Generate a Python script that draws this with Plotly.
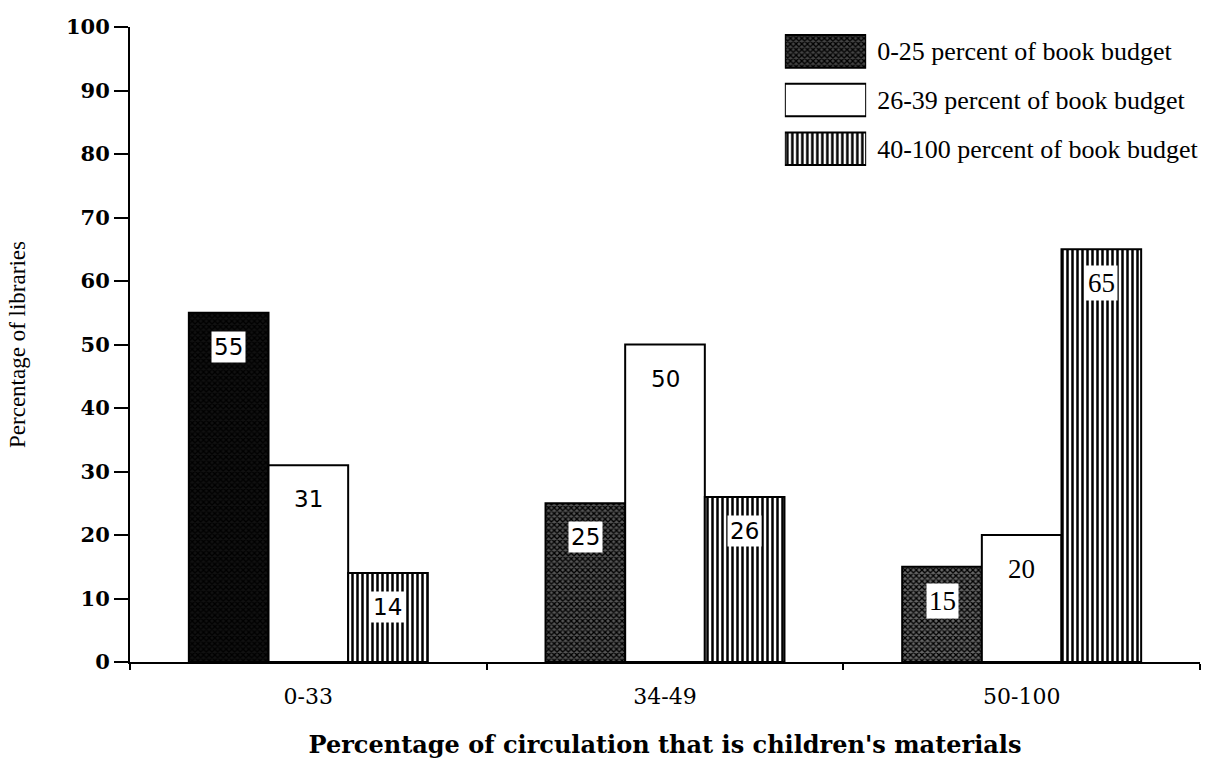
import plotly.graph_objects as go

categories = ["0-33", "34-49", "50-100"]
series_names = ["0-25 percent of book budget", "26-39 percent of book budget", "40-100 percent of book budget"]
low_budget = [55, 25, 15]
mid_budget = [31, 50, 20]
high_budget = [14, 26, 65]
y_ticks = [0, 10, 20, 30, 40, 50, 60, 70, 80, 90, 100]
swatch_len = [1]

SERIF = "Liberation Serif"
WIDE = "DejaVu Serif"
BARGAP = 0.33

dark_pattern = dict(shape="x", fgcolor="black", size=4, solidity=0.55, fillmode="replace")
stripe_pattern = dict(shape="|", fgcolor="black", bgcolor="white", size=5, solidity=0.5, fillmode="replace")
line_style = dict(color="black", width=2)

fig = go.Figure()

fig.add_trace(go.Bar(
    name=series_names[0], x=categories, y=low_budget, showlegend=False,
    marker=dict(color="#222", line=line_style,
                pattern=dict(dark_pattern, bgcolor=["#111", "#555", "#666"])),
))
fig.add_trace(go.Bar(
    name=series_names[1], x=categories, y=mid_budget, showlegend=False,
    marker=dict(color="white", line=line_style),
))
fig.add_trace(go.Bar(
    name=series_names[2], x=categories, y=high_budget, showlegend=False,
    marker=dict(color="white", line=line_style, pattern=stripe_pattern),
))

# legend: small horizontal swatch bars whose category labels act as the legend text
legend_markers = [
    dict(color="#333", line=line_style, pattern=dict(dark_pattern, bgcolor="#444")),
    dict(color="white", line=line_style),
    dict(color="white", line=line_style, pattern=stripe_pattern),
]
for name, mk in zip(series_names, legend_markers):
    fig.add_trace(go.Bar(
        x=swatch_len, y=[name], orientation="h", xaxis="x2", yaxis="y2",
        offsetgroup="legend", showlegend=False, hoverinfo="skip", marker=mk,
    ))

bw = (1 - BARGAP) / 3
label_fonts = [["DejaVu Sans", "DejaVu Sans", SERIF],
               ["DejaVu Sans", "DejaVu Sans", SERIF],
               ["DejaVu Sans", "DejaVu Sans", SERIF]]
annotations = []
for k, vals in enumerate([low_budget, mid_budget, high_budget]):
    for i, v in enumerate(vals):
        fam = label_fonts[k][i]
        annotations.append(dict(
            x=i + (k - 1) * bw, y=v, xref="x", yref="y", text=str(v),
            showarrow=False, yshift=-34, bgcolor="white", borderpad=2,
            font=dict(family=fam, size=23 if fam != SERIF else 27, color="black"),
        ))

fig.update_layout(
    width=1215, height=773,
    margin=dict(l=130, r=15, t=27, b=111, autoexpand=False),
    paper_bgcolor="white", plot_bgcolor="white",
    barmode="group", bargap=BARGAP, bargroupgap=0,
    font=dict(family=SERIF, color="black"),
    showlegend=False,
    annotations=annotations,
    xaxis=dict(
        type="category", range=[-0.5, 2.5], showgrid=False, domain=[0, 1], automargin=False,
        showline=True, linecolor="black", linewidth=2,
        ticks="outside", tickson="boundaries", ticklen=6, tickwidth=2, tickcolor="black",
        tickfont=dict(family=WIDE, size=22), ticklabelstandoff=14,
        title=dict(text="<b>Percentage of circulation that is children's materials</b>",
                   font=dict(family=WIDE, size=24), standoff=28),
    ),
    yaxis=dict(
        range=[0, 100], tickvals=y_ticks, showgrid=False, zeroline=False, automargin=False,
        showline=True, linecolor="black", linewidth=2,
        ticks="outside", ticklen=14, tickwidth=2, tickcolor="black",
        tickfont=dict(family=WIDE, size=21, weight="bold"),
        title=dict(text="Percentage of libraries", font=dict(family=SERIF, size=23), standoff=34),
    ),
    xaxis2=dict(domain=[0.612, 0.688], anchor="y2", range=[0, 1], visible=False,
                fixedrange=True, automargin=False),
    yaxis2=dict(domain=[0.77, 1.0], anchor="x2", side="right", type="category",
                categoryorder="array", categoryarray=series_names, autorange="reversed",
                showline=False, showgrid=False, zeroline=False, ticks="", automargin=False,
                ticklabelstandoff=10, tickfont=dict(family=SERIF, size=26, color="black"),
                fixedrange=True),
)

fig.write_html("out.html")
